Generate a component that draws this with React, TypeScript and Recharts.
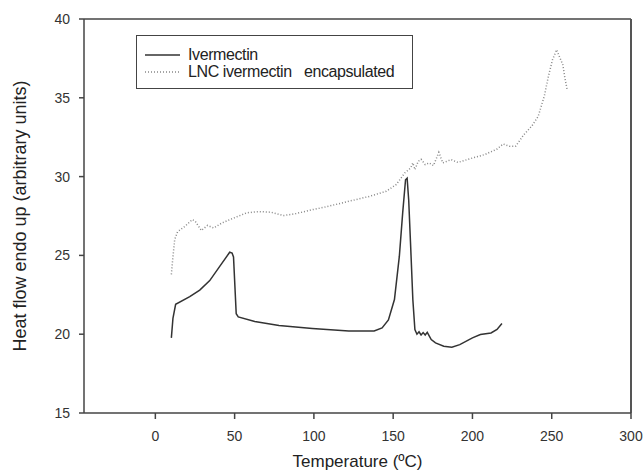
import { LineChart, Line, XAxis, YAxis, ReferenceLine, Legend } from 'recharts';

// Ivermectin (solid trace)
const ivermectinTemp = [
  10.1, 11.1, 12.8, 21.7, 28, 34.3, 40.6, 46.9, 48.4, 49.3, 51, 52.3, 62.7, 78, 99, 122, 138, 143, 147,
  150.8, 153.9, 156, 157.8, 158.8, 159.8, 161.1, 162.4, 163.7, 165, 166.3, 167.6, 168.9, 170.2, 171.5,
  172.8, 174, 176.7, 181.9, 187, 192, 200, 205, 211.7, 215.5, 218.6,
];
const ivermectinHeat = [
  19.77, 21.0, 21.9, 22.38, 22.8, 23.4, 24.3, 25.2, 25.15, 24.9, 21.3, 21.1, 20.8, 20.55, 20.36, 20.2, 20.2,
  20.4, 20.9, 22.2, 24.95, 27.7, 29.8, 29.9, 28.5, 25.4, 22.2, 20.3, 20.0, 20.15, 19.95, 20.1, 19.95, 20.12,
  19.88, 19.66, 19.45, 19.24, 19.17, 19.34, 19.77, 19.98, 20.08, 20.3, 20.68,
];

// LNC ivermectin encapsulated (dotted trace)
const lncTemp = [
  10.1, 10.9, 12.2, 14, 18.7, 23.3, 25.1, 29, 32.9, 36.8, 42, 49.7, 57.5, 65.3, 73, 80.8, 88.6, 99, 109.3,
  122.3, 135.2, 145.6, 152, 157.3, 161.1, 162.4, 163.7, 165.8, 167.6, 170.2, 172.8, 175.4, 178.8, 181.3,
  186.5, 190.9, 200, 207.8, 215.5, 219.4, 223.3, 227.2, 232.4, 237.6, 241.5, 245.3, 247.9, 250.5, 253.1,
  255.2, 257, 258.3, 259.8,
];
const lncHeat = [
  23.8, 24.7, 26.0, 26.5, 26.85, 27.27, 27.17, 26.58, 26.9, 26.74, 27.06, 27.38, 27.7, 27.78, 27.74, 27.53,
  27.65, 27.9, 28.12, 28.44, 28.75, 29.07, 29.5, 30.23, 30.55, 30.87, 30.44, 30.97, 31.1, 30.76, 30.87, 30.7,
  31.54, 30.87, 31.08, 30.9, 31.18, 31.4, 31.75, 32.07, 31.92, 31.92, 32.66, 33.23, 33.83, 35.1, 36.36, 37.42,
  38.05, 37.53, 37.1, 36.26, 35.48,
];

const xTicks = [0, 50, 100, 150, 200, 250, 300];
const yTicks = [15, 20, 25, 30, 35, 40];

const ivermectinData = ivermectinTemp.map((t, i) => ({ temp: t, heat: ivermectinHeat[i] }));
const lncData = lncTemp.map((t, i) => ({ temp: t, heat: lncHeat[i] }));

const axisColor = '#444';
const font = '"Liberation Sans", Arial, sans-serif';

function LegendBox() {
  const row = { display: 'flex', alignItems: 'center', height: 17 };
  const label = { fontFamily: font, fontSize: 16, color: '#222', marginLeft: 8, letterSpacing: -0.4 };
  return (
    <div
      style={{
        width: 277,
        height: 54,
        border: '1.5px solid #444',
        boxSizing: 'border-box',
        padding: '10px 0 0 8px',
        background: '#fff',
      }}
    >
      <div style={row}>
        <svg width={35} height={4}>
          <line x1={0} y1={2} x2={35} y2={2} stroke="#333" strokeWidth={1.5} />
        </svg>
        <span style={label}>Ivermectin</span>
      </div>
      <div style={row}>
        <svg width={35} height={4}>
          <line x1={0} y1={2} x2={35} y2={2} stroke="#888" strokeWidth={1.5} strokeDasharray="1 2" />
        </svg>
        <span style={{ ...label, whiteSpace: 'pre' }}>LNC ivermectin   encapsulated</span>
      </div>
    </div>
  );
}

export default function App() {
  return (
    <div style={{ position: 'absolute', left: 0, top: 0, background: '#fff' }}>
      <LineChart width={644} height={473} margin={{ top: 19, right: 13, left: 0, bottom: 0 }}>
        <XAxis
          dataKey="temp"
          type="number"
          domain={[-45, 300]}
          ticks={xTicks}
          allowDataOverflow
          stroke={axisColor}
          strokeWidth={1.5}
          tickSize={6}
          tickMargin={12}
          height={60}
          tick={{ fill: '#333', fontSize: 14, fontFamily: font }}
          label={{
            value: 'Temperature (ºC)',
            position: 'insideBottom',
            offset: 6,
            style: { fill: '#222', fontSize: 17, fontFamily: font },
          }}
        />
        <YAxis
          dataKey="heat"
          type="number"
          domain={[15, 40]}
          ticks={yTicks}
          allowDataOverflow
          stroke={axisColor}
          strokeWidth={1.5}
          width={84}
          tickSize={5}
          tickMargin={9}
          tick={{ fill: '#333', fontSize: 14, fontFamily: font }}
          label={{
            value: 'Heat flow endo up (arbitrary units)',
            angle: -90,
            position: 'insideLeft',
            offset: 20,
            style: { fill: '#222', fontSize: 18, fontFamily: font, textAnchor: 'middle' },
          }}
        />
        <ReferenceLine y={40} stroke={axisColor} strokeWidth={1.5} />
        <ReferenceLine x={300} stroke="#555" strokeWidth={2} />
        <Legend
          layout="vertical"
          align="center"
          verticalAlign="middle"
          wrapperStyle={{ top: 35, left: 136, width: 'auto' }}
          content={() => <LegendBox />}
        />
        <Line
          data={ivermectinData}
          dataKey="heat"
          name="Ivermectin"
          type="linear"
          stroke="#333"
          strokeWidth={1.5}
          dot={false}
          isAnimationActive={false}
        />
        <Line
          data={lncData}
          dataKey="heat"
          name="LNC ivermectin encapsulated"
          type="linear"
          stroke="#888"
          strokeWidth={1.5}
          strokeDasharray="1 2"
          dot={false}
          isAnimationActive={false}
        />
      </LineChart>
    </div>
  );
}
